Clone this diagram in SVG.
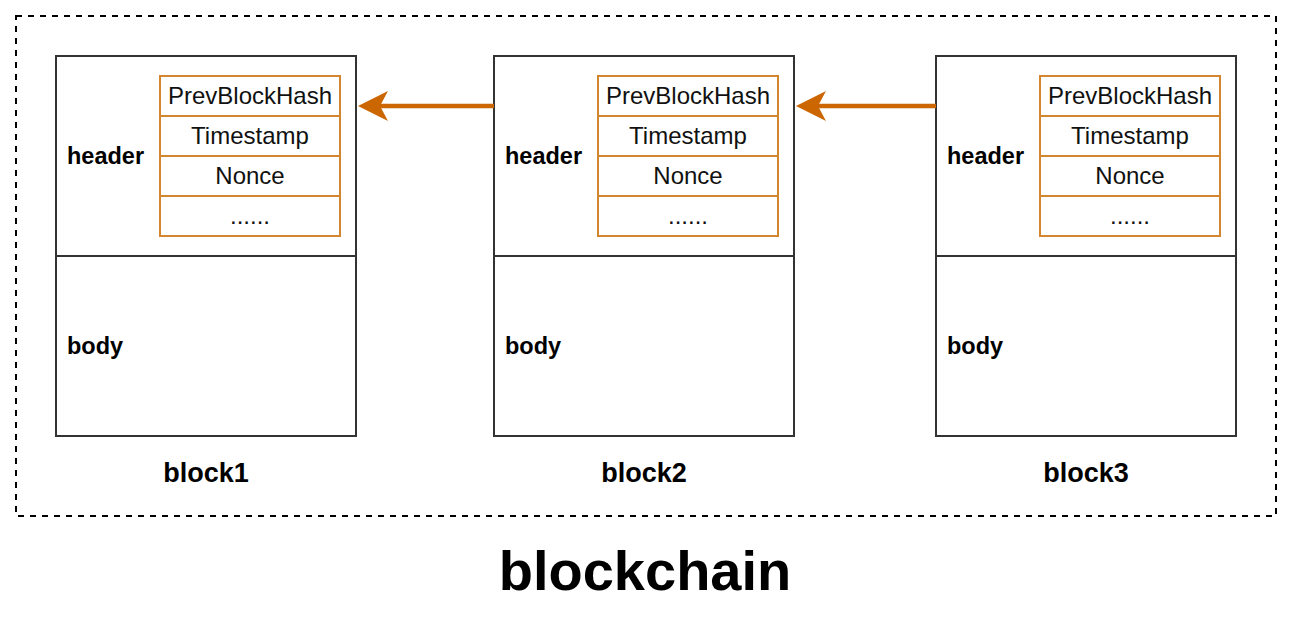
<svg xmlns="http://www.w3.org/2000/svg" width="1294" height="621" viewBox="0 0 1294 621">
<defs>
<style>
.blk{fill:#fff;stroke:#333;stroke-width:2}
.cell{fill:#fff;stroke:#d4852f;stroke-width:2}
.lbl{font-family:"Liberation Sans",Arial,sans-serif;font-weight:bold;font-size:23.5px;fill:#000}
.ct{font-family:"Liberation Sans",Arial,sans-serif;font-size:24px;fill:#111;text-anchor:middle}
.name{font-family:"Liberation Sans",Arial,sans-serif;font-weight:bold;font-size:27px;fill:#000;text-anchor:middle}
.title{font-family:"Liberation Sans",Arial,sans-serif;font-weight:bold;font-size:56px;fill:#000;text-anchor:middle}
.conn{stroke:#cc6600;stroke-width:4.5;fill:none}
.head{fill:#cc6600}
</style>
</defs>
<rect x="16" y="16" width="1260" height="500" fill="none" stroke="#000" stroke-width="2" stroke-dasharray="6 6"/>
<g id="block1">
<rect class="blk" x="56" y="56" width="300" height="200"/>
<rect class="blk" x="56" y="256" width="300" height="180"/>
<text class="lbl" x="67" y="164">header</text>
<text class="lbl" x="67" y="354">body</text>
<rect class="cell" x="160" y="76" width="180" height="40"/>
<rect class="cell" x="160" y="116" width="180" height="40"/>
<rect class="cell" x="160" y="156" width="180" height="40"/>
<rect class="cell" x="160" y="196" width="180" height="40"/>
<text class="ct" x="250" y="104">PrevBlockHash</text>
<text class="ct" x="250" y="144">Timestamp</text>
<text class="ct" x="250" y="184">Nonce</text>
<text class="ct" x="250" y="224">......</text>
<text class="name" x="206" y="482">block1</text>
</g>
<g id="block2">
<rect class="blk" x="494" y="56" width="300" height="200"/>
<rect class="blk" x="494" y="256" width="300" height="180"/>
<text class="lbl" x="505" y="164">header</text>
<text class="lbl" x="505" y="354">body</text>
<rect class="cell" x="598" y="76" width="180" height="40"/>
<rect class="cell" x="598" y="116" width="180" height="40"/>
<rect class="cell" x="598" y="156" width="180" height="40"/>
<rect class="cell" x="598" y="196" width="180" height="40"/>
<text class="ct" x="688" y="104">PrevBlockHash</text>
<text class="ct" x="688" y="144">Timestamp</text>
<text class="ct" x="688" y="184">Nonce</text>
<text class="ct" x="688" y="224">......</text>
<text class="name" x="644" y="482">block2</text>
</g>
<g id="block3">
<rect class="blk" x="936" y="56" width="300" height="200"/>
<rect class="blk" x="936" y="256" width="300" height="180"/>
<text class="lbl" x="947" y="164">header</text>
<text class="lbl" x="947" y="354">body</text>
<rect class="cell" x="1040" y="76" width="180" height="40"/>
<rect class="cell" x="1040" y="116" width="180" height="40"/>
<rect class="cell" x="1040" y="156" width="180" height="40"/>
<rect class="cell" x="1040" y="196" width="180" height="40"/>
<text class="ct" x="1130" y="104">PrevBlockHash</text>
<text class="ct" x="1130" y="144">Timestamp</text>
<text class="ct" x="1130" y="184">Nonce</text>
<text class="ct" x="1130" y="224">......</text>
<text class="name" x="1086" y="482">block3</text>
</g>
<g id="connectors">
<line class="conn" x1="494" y1="106" x2="378" y2="106"/>
<path class="head" d="M358,106 L388,91 L380,106 L388,121 Z"/>
<line class="conn" x1="936" y1="106" x2="816" y2="106"/>
<path class="head" d="M796,106 L826,91 L818,106 L826,121 Z"/>
</g>
<text class="title" x="645" y="590">blockchain</text>
</svg>
